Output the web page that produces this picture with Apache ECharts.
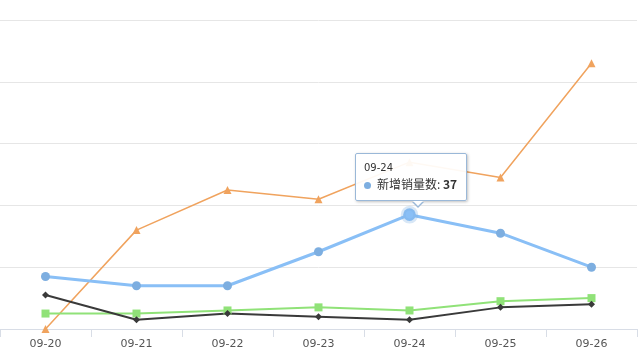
<!DOCTYPE html>
<html><head><meta charset="utf-8">
<script src="https://cdn.jsdelivr.net/npm/echarts@6/dist/echarts.min.js"></script>
<style>html,body{margin:0;padding:0;background:#fff}#c{width:640px;height:360px}</style>
</head><body><div id="c"></div>
<script>
const categories = ['09-20','09-21','09-22','09-23','09-24','09-25','09-26'];
const blueValues = [17, 14, 14, 25, 37, 31, 20];
const orangeValues = [0, 32, 45, 42, 54, 49, 86];
const greenValues = [5, 5, 6, 7, 6, 9, 10];
const blackValues = [11, 3, 5, 4, 3, 7, 8];
const yTicks = [0, 20, 40, 60, 80, 100];

const chart = echarts.init(document.getElementById('c'));
chart.setOption({
  animation: false,
  grid: {left: 0, right: 3, top: 20, bottom: 31, containLabel: false},
  tooltip: {
    trigger: 'item',
    alwaysShowContent: true,
    backgroundColor: 'rgba(255,255,255,0.93)',
    borderColor: '#9ab8d8',
    borderWidth: 1,
    padding: [7, 9, 7, 8],
    extraCssText: 'box-shadow:1px 1px 3px rgba(0,0,0,0.25);border-radius:2px;overflow:visible;',
    position: function (pt) { return [pt[0] - 55, pt[1] - 62]; },
    formatter: function (p) {
      return '<div style="position:relative">' +
        '<div style="font-family:\'DejaVu Sans\',sans-serif;font-size:10px;color:#333;line-height:14px">' + p.name + '</div>' +
        '<div style="font-family:\'Noto Sans CJK SC\',sans-serif;font-size:12px;color:#333;line-height:18px">' +
        '<span style="display:inline-block;width:7px;height:7px;border-radius:50%;background:' + p.color + ';margin-right:6px;vertical-align:middle"></span>' +
        p.seriesName + ': <b style="font-size:12px">' + p.value + '</b></div>' +
        '<div style="position:absolute;left:48px;bottom:-15px;width:0;height:0;border-left:6px solid transparent;border-right:6px solid transparent;border-top:6px solid #9ab8d8"></div>' +
        '<div style="position:absolute;left:49px;bottom:-13px;width:0;height:0;border-left:5px solid transparent;border-right:5px solid transparent;border-top:5px solid #fff"></div>' +
        '</div>';
    }
  },
  xAxis: {
    type: 'category',
    data: categories,
    boundaryGap: true,
    axisLine: {lineStyle: {color: '#d8dde6'}},
    axisTick: {show: true, length: 8, lineStyle: {color: '#d8dde6'}},
    axisLabel: {color: '#555', fontSize: 11, margin: 10, fontFamily: 'DejaVu Sans'}
  },
  yAxis: {
    type: 'value',
    min: yTicks[0], max: yTicks[yTicks.length - 1], interval: 20,
    axisLabel: {show: false},
    axisLine: {show: false}, axisTick: {show: false},
    splitLine: {lineStyle: {color: '#e6e6e6'}}
  },
  series: [
    {name: '新增销量数', type: 'line', data: blueValues, symbol: 'circle', symbolSize: 9,
     z: 4,
     itemStyle: {color: '#7daee0'}, lineStyle: {width: 3, color: '#7daee0'},
     emphasis: {scale: 1.4, itemStyle: {borderColor: 'rgba(125,174,224,0.3)', borderWidth: 5}}},
    {name: '系列二', type: 'line', data: orangeValues, symbol: 'triangle', symbolSize: 8,
     itemStyle: {color: '#f0a35e'}, lineStyle: {width: 1.5, color: '#f0a35e'}},
    {name: '系列三', type: 'line', data: greenValues, symbol: 'rect', symbolSize: 8,
     itemStyle: {color: '#90e278'}, lineStyle: {width: 2, color: '#90e278'}},
    {name: '系列四', type: 'line', data: blackValues, symbol: 'diamond', symbolSize: 7,
     itemStyle: {color: '#3a3a3a'}, lineStyle: {width: 2, color: '#3a3a3a'}}
  ]
});
chart.dispatchAction({type: 'showTip', seriesIndex: 0, dataIndex: 4});
chart.dispatchAction({type: 'highlight', seriesIndex: 0, dataIndex: 4});
</script></body></html>
